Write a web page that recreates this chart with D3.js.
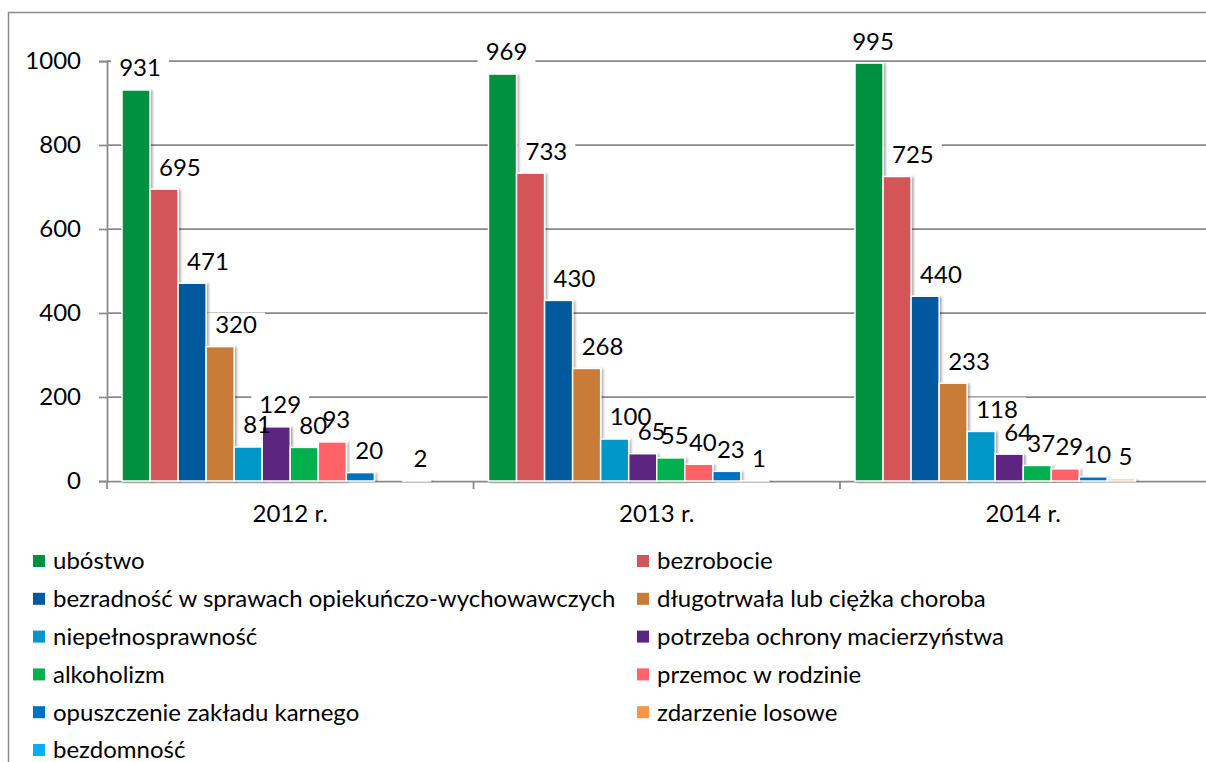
<!DOCTYPE html>
<html>
<head>
<meta charset="utf-8">
<script src="https://cdnjs.cloudflare.com/ajax/libs/d3/7.8.5/d3.min.js"></script>
<style>
  html, body { margin: 0; padding: 0; background: #fff; }
  svg { display: block; font-family: Lato, "Open Sans", sans-serif; }
</style>
</head>
<body>
<script>
// Categories (years)
var years = ["2012 r.", "2013 r.", "2014 r."];

// Series names, in legend order
var seriesNames = [
  "ubóstwo",
  "bezrobocie",
  "bezradność w sprawach opiekuńczo-wychowawczych",
  "długotrwała lub ciężka choroba",
  "niepełnosprawność",
  "potrzeba ochrony macierzyństwa",
  "alkoholizm",
  "przemoc w rodzinie",
  "opuszczenie zakładu karnego",
  "zdarzenie losowe",
  "bezdomność"
];

var seriesColors = [
  "#00913f", "#d35458", "#00599d", "#c97b38", "#0096c8", "#5b2580",
  "#00b050", "#ff6468", "#0070c0", "#f79646", "#00b0f0"
];

// Values per series for 2012, 2013, 2014 (null = no value)
var ubostwo = [931, 969, 995];
var bezrobocie = [695, 733, 725];
var bezradnosc = [471, 430, 440];
var choroba = [320, 268, 233];
var niepelnosprawnosc = [81, 100, 118];
var macierzynstwo = [129, 65, 64];
var alkoholizm = [80, 55, 37];
var przemoc = [93, 40, 29];
var zakladKarny = [20, 23, 10];
var zdarzenieLosowe = [null, 1, 5];
var bezdomnosc = [2, null, null];

var seriesValues = [ubostwo, bezrobocie, bezradnosc, choroba, niepelnosprawnosc,
  macierzynstwo, alkoholizm, przemoc, zakladKarny, zdarzenieLosowe, bezdomnosc];

var yTicks = [0, 200, 400, 600, 800, 1000];

// Chart setup
var width = 1206, height = 762;
var fontSize = 24;
var axisColor = "#8a8a8a";

var svg = d3.select("body")
  .append("svg")
  .attr("width", width)
  .attr("height", height);

// soft shadow like the office chart
var defs = svg.append("defs");
defs.append("filter")
  .attr("id", "shadow")
  .attr("x", "-20%").attr("y", "-5%")
  .attr("width", "150%").attr("height", "115%")
  .append("feDropShadow")
  .attr("dx", 2).attr("dy", 1)
  .attr("stdDeviation", 1.2)
  .attr("flood-color", "#000")
  .attr("flood-opacity", 0.3);

// outer chart border
svg.append("rect")
  .attr("x", 8.5).attr("y", 12.5)
  .attr("width", width + 10).attr("height", height + 10)
  .attr("fill", "none")
  .attr("stroke", axisColor)
  .attr("stroke-width", 1.5);

var plotLeft = 107, plotRight = 1206.5, plotTop = 61, plotBottom = 481;

var x0 = d3.scaleBand()
  .domain(years)
  .range([plotLeft, plotRight]);

// 12 slots per cluster (one empty slot is part of the original layout)
var slots = d3.range(seriesNames.length + 1);
var clusterInset = 15;
var x1 = d3.scaleBand()
  .domain(slots)
  .range([clusterInset, x0.bandwidth() - clusterInset]);

var y = d3.scaleLinear()
  .domain([0, 1000])
  .range([plotBottom, plotTop]);

// gridlines
svg.append("g")
  .selectAll("line")
  .data(yTicks.filter(function(d) { return d > 0; }))
  .enter().append("line")
    .attr("x1", plotLeft)
    .attr("x2", plotRight)
    .attr("y1", function(d) { return y(d); })
    .attr("y2", function(d) { return y(d); })
    .attr("stroke", axisColor)
    .attr("stroke-width", 1.75);

// y axis
var yAxis = svg.append("g")
  .attr("transform", "translate(" + plotLeft + ",0)")
  .call(d3.axisLeft(y).tickValues(yTicks).tickSize(8).tickPadding(18).tickFormat(d3.format("d")));
yAxis.select(".domain").attr("stroke", axisColor).attr("stroke-width", 1.75);
yAxis.selectAll(".tick line").attr("stroke", axisColor).attr("stroke-width", 1.75);
yAxis.selectAll(".tick text")
  .attr("fill", "#000")
  .style("font-size", fontSize + "px")
  .style("font-family", "Lato, sans-serif");

// x axis
var xAxis = svg.append("g")
  .attr("transform", "translate(0," + plotBottom + ")")
  .call(d3.axisBottom(x0).tickSize(0).tickPadding(24));
xAxis.select(".domain").attr("stroke", axisColor).attr("stroke-width", 1.75);
xAxis.selectAll(".tick text")
  .attr("fill", "#000")
  .style("font-size", fontSize + "px")
  .style("font-family", "Lato, sans-serif");

// category boundary ticks
svg.append("g")
  .selectAll("line")
  .data(years)
  .enter().append("line")
    .attr("x1", function(d) { return x0(d); })
    .attr("x2", function(d) { return x0(d); })
    .attr("y1", plotBottom)
    .attr("y2", plotBottom + 8)
    .attr("stroke", axisColor)
    .attr("stroke-width", 1.75);

// flatten data into bar records
var bars = [];
seriesNames.forEach(function(name, i) {
  seriesValues[i].forEach(function(v, j) {
    if (v !== null) bars.push({ series: i, yearIdx: j, year: years[j], value: v });
  });
});

// groups in drawing order: label backgrounds under bars, label text on top
var labelBgLayer = svg.append("g");
var barLayer = svg.append("g");
var labelLayer = svg.append("g");

barLayer.selectAll("rect")
  .data(bars)
  .enter().append("rect")
    .attr("x", function(d) { return x0(d.year) + x1(d.series); })
    .attr("y", function(d) { return y(d.value); })
    .attr("width", x1.bandwidth())
    .attr("height", function(d) { return plotBottom - y(d.value); })
    .attr("fill", function(d) { return seriesColors[d.series]; })
    .attr("stroke", "#fff")
    .attr("stroke-width", 1.5)
    .attr("filter", "url(#shadow)");

// data labels: above the bar, pushed right when the previous bar is taller
var labelRise = 22, labelHalfHeight = 9, labelGap = 9, labelNudge = 4;

var labelText = labelLayer.selectAll("text")
  .data(bars)
  .enter().append("text")
    .attr("dy", "0.35em")
    .attr("text-anchor", "middle")
    .style("font-size", fontSize + "px")
    .text(function(d) { return d.value; });

labelText.each(function(d) {
  var t = d3.select(this);
  var w = this.getComputedTextLength();
  var left = x0(d.year) + x1(d.series);
  var cx = left + x1.bandwidth() / 2 + labelNudge;
  var cy = y(d.value) - labelRise;
  // find previous bar in the same cluster
  for (var k = d.series - 1; k >= 0; k--) {
    var pv = seriesValues[k][d.yearIdx];
    if (pv !== null) {
      if (y(pv) < cy + labelHalfHeight) {
        var prevRight = x0(d.year) + x1(k) + x1.bandwidth();
        cx = Math.max(cx, prevRight + labelGap + w / 2);
      }
      break;
    }
  }
  t.attr("x", cx).attr("y", cy);
  d.labelBox = { x: cx - w / 2 - 8, y: cy - 12, w: w + 16, h: 24 };
});

// white label backgrounds break the gridlines like the original
labelBgLayer.selectAll("rect")
  .data(bars)
  .enter().append("rect")
    .attr("x", function(d) { return d.labelBox.x; })
    .attr("y", function(d) { return d.labelBox.y; })
    .attr("width", function(d) { return d.labelBox.w; })
    .attr("height", function(d) { return d.labelBox.h; })
    .attr("fill", "#fff");

// legend, two columns
var legendCols = [33, 637];
var legendTop = 561, legendStep = 37.8;

var legend = svg.append("g")
  .selectAll("g")
  .data(seriesNames)
  .enter().append("g")
    .attr("transform", function(d, i) {
      return "translate(" + legendCols[i % 2] + "," + (legendTop + Math.floor(i / 2) * legendStep) + ")";
    });

legend.append("rect")
  .attr("x", 0)
  .attr("y", -6)
  .attr("width", 12)
  .attr("height", 12)
  .attr("fill", function(d, i) { return seriesColors[i]; });

legend.append("text")
  .attr("x", 20)
  .attr("dy", "0.35em")
  .style("font-size", fontSize + "px")
  .text(function(d) { return d; });
</script>
</body>
</html>
